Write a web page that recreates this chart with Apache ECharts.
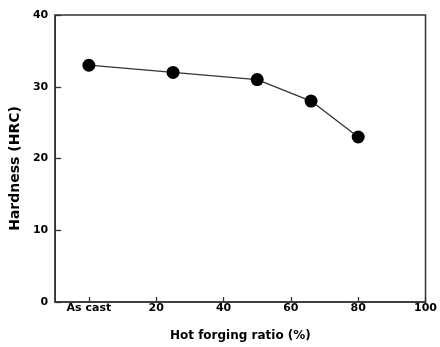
<!DOCTYPE html>
<html>
<head>
<meta charset="utf-8">
<script src="https://cdn.jsdelivr.net/npm/echarts@6/dist/echarts.min.js"></script>
<style>
html,body{margin:0;padding:0;background:#fff;}
#chart{width:440px;height:347px;}
</style>
</head>
<body>
<div id="chart"></div>
<script>
// Data
var forgingRatio = [0, 25, 50, 66, 80];
var hardness = [33, 32, 31, 28, 23];
var xTickValues = [0, 20, 40, 60, 80, 100];
var xTickLabels = ['As cast', '20', '40', '60', '80', '100'];
var yTickValues = [0, 10, 20, 30, 40];

var FONT = 'DejaVu Sans';
var chart = echarts.init(document.getElementById('chart'));
var points = forgingRatio.map(function (x, i) { return [x, hardness[i]]; });

chart.setOption({
  animation: false,
  backgroundColor: '#fff',
  grid: {
    left: 54, right: 13, top: 15, bottom: 45,
    show: true, borderColor: '#333', borderWidth: 1.5, backgroundColor: 'transparent'
  },
  xAxis: {
    type: 'value',
    min: -10, max: 100, interval: 10,
    name: 'Hot forging ratio (%)',
    nameLocation: 'middle',
    nameGap: 28,
    nameTextStyle: { fontFamily: FONT, fontWeight: 'bold', fontSize: 12, color: '#000' },
    axisLine: { show: true, onZero: false, lineStyle: { color: '#333', width: 1.5 } },
    axisTick: { show: true, inside: true, length: 5, customValues: xTickValues, lineStyle: { color: '#333', width: 1.3 } },
    axisLabel: {
      customValues: xTickValues,
      margin: 1,
      fontFamily: FONT, fontWeight: 'bold', fontSize: 11, color: '#000',
      formatter: function (v) {
        var i = xTickValues.indexOf(v);
        return i >= 0 ? xTickLabels[i] : '';
      }
    },
    splitLine: { show: false }
  },
  yAxis: {
    type: 'value',
    min: 0, max: 40, interval: 10,
    name: 'Hardness (HRC)',
    nameLocation: 'middle',
    nameGap: 31,
    nameTextStyle: { fontFamily: FONT, fontWeight: 'bold', fontSize: 14, color: '#000', padding: [0, 20, 0, 0] },
    axisLine: { show: true, onZero: false, lineStyle: { color: '#333', width: 1.5 } },
    axisTick: { show: true, inside: true, length: 6, lineStyle: { color: '#333', width: 1.3 } },
    axisLabel: {
      margin: 7,
      fontFamily: FONT, fontWeight: 'bold', fontSize: 11, color: '#000'
    },
    splitLine: { show: false }
  },
  series: [{
    type: 'line',
    data: points,
    symbol: 'circle',
    symbolSize: 13,
    itemStyle: { color: '#000' },
    lineStyle: { color: '#333', width: 1.3 }
  }]
});
</script>
</body>
</html>
